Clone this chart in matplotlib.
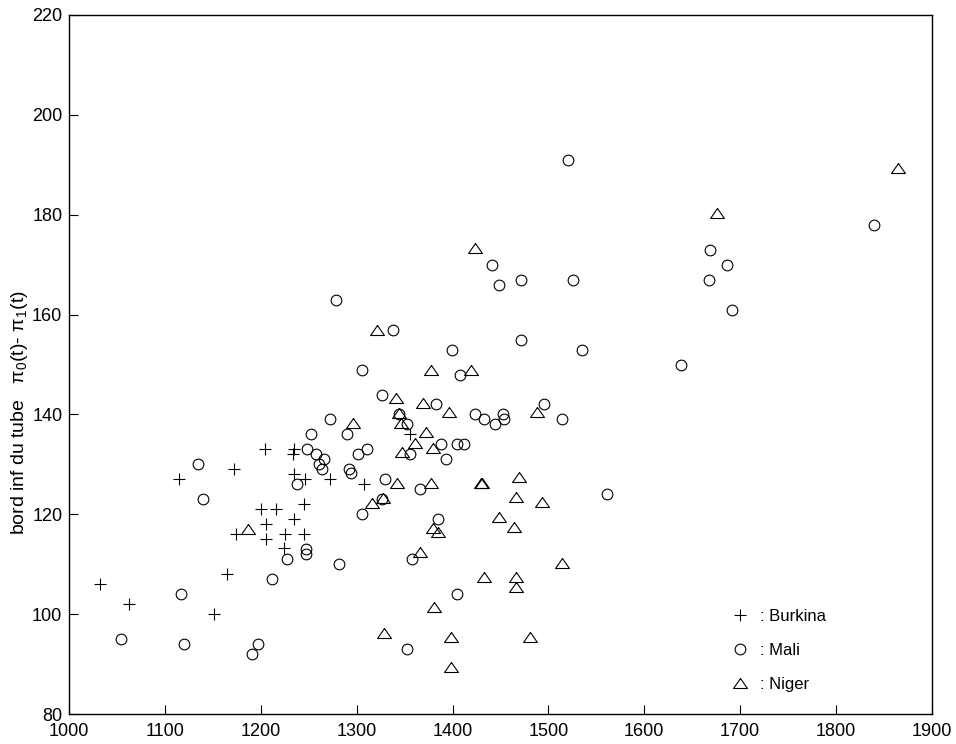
import numpy as np
import matplotlib
matplotlib.use("Agg")
import matplotlib.pyplot as plt

plt.rcParams['font.family'] = ['Liberation Sans', 'DejaVu Sans']
plt.rcParams['mathtext.fontset'] = 'custom'
plt.rcParams['mathtext.rm'] = 'Liberation Sans'
plt.rcParams['mathtext.it'] = 'Liberation Sans:italic'
plt.rcParams['mathtext.default'] = 'regular'

# Burkina (+)
burkina_x = [1032, 1062, 1115, 1151.5, 1165, 1172, 1174, 1200, 1205, 1205, 1204.5, 1216,
             1223.6, 1225, 1235, 1234.7, 1234.7, 1233, 1245, 1245, 1246, 1272, 1307.5, 1356]
burkina_y = [106, 102, 127, 100, 108, 129, 116, 121, 118, 115, 133, 121,
             113.2, 116, 119, 128, 133, 132, 116, 122, 127, 127, 126, 136]

# Mali (o)
mali_x = [1134, 1238, 1140, 1227, 1247, 1247, 1211.5, 1117, 1054, 1120, 1197, 1191,
          1278, 1338, 1399, 1408, 1305, 1326.5, 1383, 1423, 1344, 1352, 1272, 1252,
          1290, 1387.5, 1404.5, 1412.5, 1356, 1393, 1311, 1301.5, 1248, 1258, 1266, 1261,
          1263.5, 1292, 1293.6, 1330, 1366, 1326.5, 1305, 1385, 1281.5, 1358, 1404.5, 1353,
          1441, 1449, 1471, 1526, 1471, 1535.5, 1433, 1444, 1453, 1454, 1496, 1514,
          1561, 1521, 1669, 1686, 1668, 1692, 1639, 1840]
mali_y = [130, 126, 123, 111, 113, 112, 107, 104, 95, 94, 94, 92,
          163, 157, 153, 148, 149, 144, 142, 140, 140, 138, 139, 136,
          136, 134, 134, 134, 132, 131, 133, 132, 133, 132, 131, 130,
          129, 129, 128.2, 127, 125, 123, 120, 119, 110, 111, 104, 93,
          170, 166, 167, 167, 155, 153, 139, 138, 140, 139, 142, 139,
          124, 191, 173, 170, 167, 161, 150, 178]

# Niger (triangle)
niger_x = [1187, 1321, 1378, 1419, 1341.5, 1369, 1396, 1344.6, 1346.7, 1372.7, 1296, 1361,
           1379.5, 1347, 1342, 1378, 1315.5, 1327, 1380, 1384.7, 1366.5, 1448, 1464.5, 1433,
           1466, 1466, 1381, 1328, 1398, 1398, 1481, 1423, 1488, 1430, 1431, 1469.4,
           1466, 1493, 1514, 1675.6, 1865]
niger_y = [117, 157, 149, 149, 143.4, 142.4, 140.4, 140.2, 138.2, 136.4, 138.2, 134.2,
           133.3, 132.4, 126.2, 126.2, 122.3, 123.2, 117.2, 116.4, 112.4, 119.4, 117.4, 107.4,
           107.4, 105.4, 101.4, 96.3, 95.5, 89.4, 95.4, 173.3, 140.4, 126.3, 126.3, 127.4,
           123.5, 122.5, 110.3, 180.4, 189.3]

x_ticks = list(range(1000, 1901, 100))
y_ticks = list(range(80, 221, 20))

# triangle plus large que haut, comme dans matlab
tri = [(0, 0.72), (-1, -0.72), (1, -0.72), (0, 0.72)]

fig = plt.figure(figsize=(9.56, 7.44), dpi=100)
ax = fig.add_axes([0.0725, 0.0399, 0.9019, 0.9403])

ax.plot(burkina_x, burkina_y, ls='none', marker='+', ms=8.6, mew=0.8, color='k', label=': Burkina')
ax.plot(mali_x, mali_y, ls='none', marker='o', ms=7.7, mew=0.8, mfc='none', mec='k', label=': Mali')
ax.plot(niger_x, niger_y, ls='none', marker=tri, ms=10, mew=0.8, mfc='none', mec='k', label=': Niger')

ax.set_xlim(1000, 1900)
ax.set_ylim(80, 220)
ax.set_xticks(x_ticks)
ax.set_yticks(y_ticks)
ax.tick_params(direction='in', length=6.5, width=0.8, labelsize=13)
ax.tick_params(axis='x', pad=6.5)
ax.tick_params(axis='y', pad=5)
for sp in ax.spines.values():
    sp.set_linewidth(1.0)

ax.set_ylabel('bord inf du tube   $\\pi_0$(t)- $\\pi_1$(t)', fontsize=14)
ax.yaxis.set_label_coords(-0.046, 0.4307)

ax.legend(loc='upper left', bbox_to_anchor=(0.768, 0.151), frameon=False, fontsize=12,
          handlelength=1, handletextpad=0.7, labelspacing=1.15, borderaxespad=0,
          borderpad=0, numpoints=1)

fig.savefig('out.png', dpi=100)
